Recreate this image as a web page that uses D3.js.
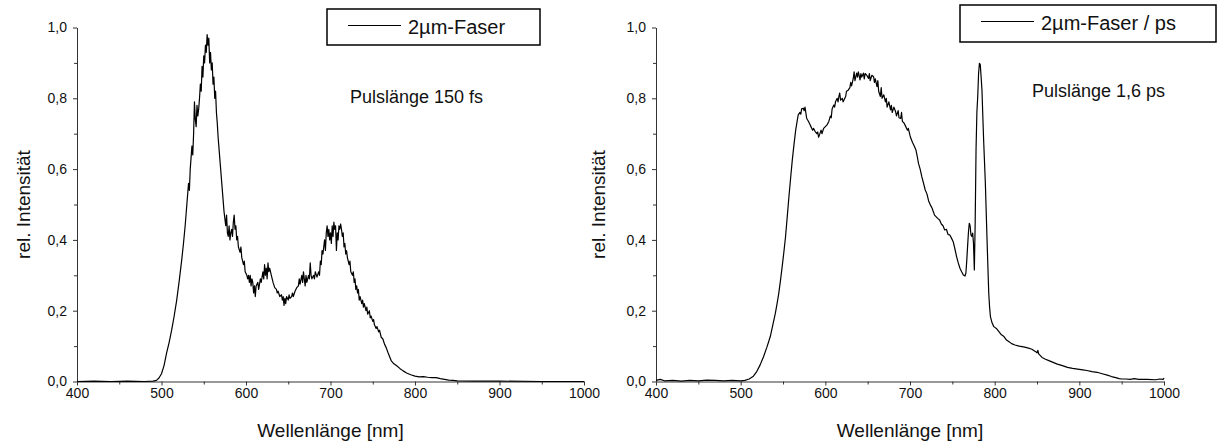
<!DOCTYPE html>
<html>
<head>
<meta charset="utf-8">
<script src="https://cdn.jsdelivr.net/npm/d3@7"></script>
<style>
  body { margin: 0; background: #fff; }
  svg { display: block; font-family: "Liberation Sans", Arial, sans-serif; }
</style>
</head>
<body>
<script>
// spectrum with 150 fs pulses, [wavelength nm, relative intensity]
const spectrum150fs = [
  [400,0],[420,0.001],[440,0],[460,0.001],[480,0],[490,0.001],[494,0.003],[497,0.01],[500,0.022],[503,0.045],
  [506,0.08],[509,0.11],[512,0.145],[515,0.185],[518,0.23],[521,0.285],[524,0.345],[526,0.39],[528,0.44],[530,0.5],
  [532,0.56],[533,0.54],[534,0.6],[536,0.665],[537,0.64],[538,0.7],[539,0.79],[540,0.74],[541,0.72],[542,0.78],
  [543,0.75],[544,0.77],[545,0.8],[546,0.84],[547,0.82],[548,0.89],[549,0.86],[550,0.92],[551,0.9],[552,0.95],
  [553,0.93],[554,0.98],[555,0.95],[556,0.97],[557,0.9],[558,0.93],[559,0.88],[560,0.9],[561,0.84],[562,0.86],
  [563,0.8],[564,0.82],[565,0.76],[566,0.73],[567,0.69],[568,0.66],[570,0.6],[572,0.54],[574,0.48],[576,0.44],
  [577,0.47],[578,0.42],[579,0.41],[580,0.44],[581,0.4],[582,0.42],[583,0.43],[584,0.41],[585,0.45],[586,0.47],
  [587,0.43],[588,0.44],[589,0.4],[590,0.41],[591,0.38],[593,0.365],[594,0.38],[595,0.35],[597,0.33],[598,0.34],
  [599,0.31],[601,0.3],[602,0.29],[603,0.3],[604,0.28],[605,0.3],[606,0.27],[607,0.29],[608,0.28],[609,0.25],
  [610,0.27],[611,0.24],[612,0.27],[614,0.28],[615,0.26],[617,0.29],[618,0.28],[620,0.31],[621,0.29],[622,0.33],
  [623,0.3],[624,0.32],[625,0.29],[626,0.335],[627,0.31],[628,0.32],[630,0.3],[632,0.28],[634,0.265],[636,0.26],
  [637,0.25],[638,0.255],[640,0.24],[642,0.245],[643,0.23],[644,0.24],[645,0.215],[646,0.235],[647,0.22],[648,0.24],
  [650,0.23],[651,0.245],[652,0.235],[654,0.24],[655,0.25],[656,0.24],[658,0.255],[660,0.265],[662,0.27],[663,0.29],
  [664,0.275],[666,0.3],[667,0.28],[668,0.31],[669,0.29],[670,0.27],[671,0.3],[672,0.28],[674,0.3],[675,0.29],
  [676,0.335],[677,0.3],[678,0.29],[680,0.3],[681,0.29],[682,0.31],[684,0.295],[686,0.31],[687,0.3],[688,0.34],
  [689,0.33],[690,0.37],[691,0.36],[692,0.38],[693,0.4],[694,0.37],[695,0.42],[696,0.44],[697,0.41],[698,0.43],
  [699,0.4],[700,0.42],[701,0.39],[702,0.44],[703,0.41],[704,0.45],[705,0.43],[706,0.44],[707,0.37],[708,0.42],
  [709,0.4],[710,0.44],[711,0.43],[712,0.445],[713,0.43],[714,0.41],[715,0.42],[716,0.38],[717,0.39],[718,0.36],
  [719,0.37],[720,0.35],[722,0.33],[723,0.34],[724,0.31],[726,0.3],[727,0.31],[728,0.28],[729,0.29],[730,0.26],
  [731,0.27],[732,0.25],[733,0.26],[734,0.23],[735,0.24],[737,0.22],[738,0.23],[739,0.21],[740,0.22],[742,0.2],
  [743,0.21],[744,0.19],[746,0.2],[747,0.18],[748,0.185],[750,0.17],[751,0.175],[752,0.16],[754,0.15],[755,0.155],
  [757,0.14],[758,0.145],[760,0.125],[762,0.12],[764,0.105],[766,0.095],[768,0.082],[770,0.07],[772,0.058],[775,0.05],
  [778,0.045],[782,0.037],[786,0.03],[790,0.024],[795,0.019],[800,0.015],[805,0.013],[810,0.014],[815,0.012],[820,0.011],
  [825,0.011],[830,0.008],[835,0.006],[840,0.004],[845,0.003],[850,0.002],[870,0.001],[900,0.001],[950,0],[1000,0]
];

// spectrum with 1.6 ps pulses
const spectrum16ps = [
  [400,0.003],[405,0.006],[410,0.002],[420,0.003],[430,0.001],[440,0.003],[450,0.002],[460,0.004],[470,0.003],[480,0.002],
  [490,0.003],[500,0.002],[505,0.003],[510,0.007],[515,0.015],[519,0.028],[523,0.047],[527,0.07],[531,0.097],[535,0.127],
  [538,0.16],[541,0.193],[543,0.22],[545,0.249],[547,0.285],[549,0.324],[551,0.365],[553,0.409],[555,0.465],[557,0.522],
  [559,0.575],[561,0.626],[563,0.67],[565,0.71],[567,0.74],[568,0.753],[570,0.76],[571,0.755],[572,0.77],[574,0.772],
  [575,0.765],[576,0.775],[578,0.743],[580,0.735],[582,0.725],[583,0.72],[585,0.71],[586,0.715],[588,0.706],[590,0.7],
  [591,0.705],[592,0.69],[593,0.696],[595,0.71],[596,0.7],[598,0.715],[600,0.72],[602,0.725],[604,0.734],[606,0.75],
  [607,0.745],[608,0.77],[610,0.781],[611,0.775],[612,0.79],[614,0.8],[615,0.79],[616,0.805],[617,0.815],[618,0.795],
  [620,0.8],[621,0.79],[622,0.795],[624,0.805],[625,0.82],[627,0.823],[629,0.83],[630,0.845],[631,0.835],[633,0.856],
  [634,0.875],[635,0.85],[637,0.871],[638,0.86],[639,0.875],[641,0.852],[642,0.87],[643,0.86],[645,0.871],[646,0.855],
  [647,0.87],[649,0.865],[651,0.856],[652,0.87],[653,0.85],[655,0.865],[657,0.861],[658,0.845],[659,0.855],[661,0.833],
  [662,0.85],[663,0.82],[665,0.805],[666,0.83],[667,0.8],[669,0.81],[671,0.79],[672,0.8],[673,0.775],[675,0.79],
  [677,0.767],[678,0.78],[679,0.76],[681,0.775],[683,0.762],[684,0.75],[686,0.765],[687,0.745],[689,0.743],[690,0.76],
  [691,0.735],[693,0.73],[695,0.72],[697,0.71],[698,0.715],[700,0.695],[701,0.687],[703,0.675],[705,0.665],[707,0.654],
  [709,0.63],[710,0.616],[712,0.6],[714,0.578],[716,0.56],[718,0.541],[720,0.53],[722,0.51],[724,0.499],[726,0.49],
  [729,0.47],[731,0.465],[733,0.46],[735,0.456],[737,0.445],[739,0.44],[741,0.428],[743,0.43],[745,0.415],[747,0.414],
  [749,0.405],[751,0.395],[753,0.375],[755,0.353],[757,0.335],[759,0.32],[761,0.31],[763,0.301],[765,0.298],[766,0.306],
  [767,0.34],[768,0.381],[769,0.42],[770,0.447],[771,0.44],[772,0.414],[773,0.41],[774,0.419],[775,0.39],[776,0.315],
  [777,0.45],[778,0.654],[779,0.76],[780,0.805],[781,0.87],[782,0.899],[783,0.895],[784,0.86],[785,0.823],[786,0.75],
  [787,0.68],[788,0.62],[789,0.56],[790,0.48],[791,0.4],[792,0.324],[793,0.25],[794,0.21],[795,0.183],[797,0.165],
  [799,0.155],[802,0.15],[805,0.141],[808,0.132],[811,0.127],[814,0.117],[817,0.112],[820,0.107],[824,0.103],[829,0.1],
  [834,0.098],[839,0.095],[844,0.091],[848,0.085],[850,0.081],[851,0.088],[852,0.078],[856,0.068],[860,0.063],[864,0.059],
  [869,0.054],[874,0.049],[880,0.045],[886,0.04],[892,0.037],[898,0.035],[904,0.033],[909,0.031],[915,0.028],[921,0.026],
  [927,0.022],[933,0.018],[938,0.014],[943,0.011],[947,0.008],[950,0.007],[955,0.007],[960,0.006],[965,0.008],[970,0.006],
  [980,0.006],[990,0.005],[995,0.007],[999,0.006],[1000,0.01]
];

const xTicks = [400, 500, 600, 700, 800, 900, 1000];
const xMinor = [450, 550, 650, 750, 850, 950];
const yTicks = [0, 0.2, 0.4, 0.6, 0.8, 1.0];
const yMinor = [0.1, 0.3, 0.5, 0.7, 0.9];
const legendLabels = ["2µm-Faser", "2µm-Faser / ps"];
const notes = ["Pulslänge 150 fs", "Pulslänge 1,6 ps"];

const width = 1218;
const height = 445;

const svg = d3.create("svg").attr("width", width).attr("height", height);

const fmt = (d) => d3.format(".1f")(d).replace(".", ",");

function panel(data, left, right, legend, note, yTitleX) {
  const x = d3.scaleLinear([400, 1000], [left, right]);
  const y = d3.scaleLinear([0, 1], [381.5, 27.5]);
  const g = svg.append("g");

  // minor ticks first, no labels
  g.append("g")
    .attr("transform", `translate(0,${y(0)})`)
    .call(d3.axisBottom(x).tickValues(xMinor).tickSize(3).tickFormat(""))
    .call((a) => a.select(".domain").remove());
  g.append("g")
    .attr("transform", `translate(${x(400)},0)`)
    .call(d3.axisLeft(y).tickValues(yMinor).tickSize(3).tickFormat(""))
    .call((a) => a.select(".domain").remove());

  g.append("g")
    .attr("transform", `translate(0,${y(0)})`)
    .call(d3.axisBottom(x).tickValues(xTicks).tickFormat(d3.format("d")).tickSize(4).tickSizeOuter(0).tickPadding(3))
    .attr("font-size", 14);
  g.append("g")
    .attr("transform", `translate(${x(400)},0)`)
    .call(d3.axisLeft(y).tickValues(yTicks).tickFormat(fmt).tickSize(4).tickSizeOuter(0).tickPadding(6))
    .attr("font-size", 14);

  g.selectAll(".domain, .tick line").attr("stroke", "#333");
  g.selectAll(".tick text").attr("fill", "#111").attr("font-family", "Liberation Sans, Arial, sans-serif");

  g.append("path")
    .datum(data)
    .attr("fill", "none")
    .attr("stroke", "#000")
    .attr("stroke-width", 1.2)
    .attr("stroke-linejoin", "round")
    .attr("d", d3.line((d) => x(d[0]), (d) => y(d[1])));

  g.append("text")
    .attr("x", (left + right) / 2)
    .attr("y", 437)
    .attr("text-anchor", "middle")
    .attr("font-size", 19)
    .attr("fill", "#111")
    .text("Wellenlänge [nm]");

  g.append("text")
    .attr("transform", `translate(${yTitleX},${(y(0) + y(1)) / 2}) rotate(-90)`)
    .attr("text-anchor", "middle")
    .attr("font-size", 19)
    .attr("fill", "#111")
    .text("rel. Intensität");

  const lg = g.append("g");
  lg.append("rect")
    .attr("x", legend.x).attr("y", legend.y)
    .attr("width", legend.w).attr("height", legend.h)
    .attr("fill", "#fff").attr("stroke", "#000").attr("stroke-width", 1.5);
  lg.append("line")
    .attr("x1", legend.x + 21).attr("x2", legend.x + 74)
    .attr("y1", legend.y + 16.5).attr("y2", legend.y + 16.5)
    .attr("stroke", "#000").attr("stroke-width", 1);
  lg.append("text")
    .attr("x", legend.x + 81).attr("y", legend.y + 25)
    .attr("font-size", 20).attr("fill", "#111")
    .text(legend.label);

  g.append("text")
    .attr("x", note.x).attr("y", note.y)
    .attr("font-size", 18).attr("fill", "#111")
    .text(note.label);
}

panel(spectrum150fs, 77, 584,
  { x: 327, y: 9, w: 213, h: 36, label: legendLabels[0] },
  { x: 350, y: 103, label: notes[0] }, 30);
panel(spectrum16ps, 656, 1164,
  { x: 960, y: 5, w: 256, h: 37, label: legendLabels[1] },
  { x: 1032, y: 97, label: notes[1] }, 605);

document.body.appendChild(svg.node());
</script>
</body>
</html>
